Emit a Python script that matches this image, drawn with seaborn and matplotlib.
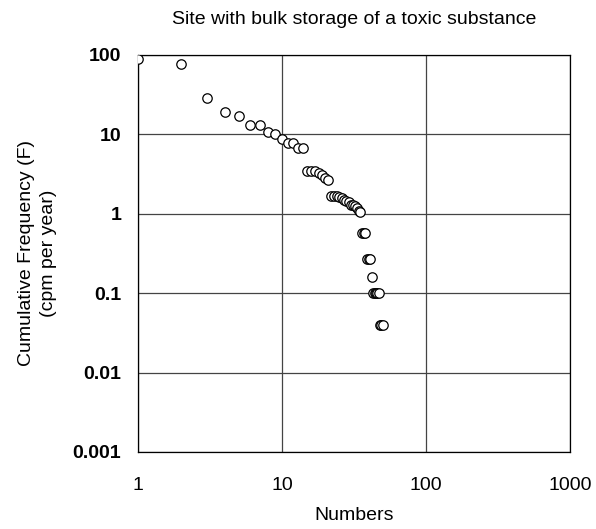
import matplotlib
matplotlib.use("Agg")
import matplotlib.pyplot as plt
import seaborn as sns
import pandas as pd
from matplotlib.ticker import FixedLocator, FixedFormatter, NullLocator

sns.set_theme(style="white")
plt.rcParams['font.family'] = ['Liberation Sans', 'DejaVu Sans']
plt.rcParams['text.color'] = 'black'
plt.rcParams['axes.labelcolor'] = 'black'
plt.rcParams['xtick.color'] = 'black'
plt.rcParams['ytick.color'] = 'black'

title = "Site with bulk storage of a toxic substance"
x_label = "Numbers"
y_label = "Cumulative Frequency (F)\n(cpm per year)"

ranks = list(range(1, 51))
frequency = [90, 76, 29, 19, 17, 13, 13, 10.8, 10.2, 8.7, 7.8, 7.8, 6.7, 6.7,
             3.5, 3.5, 3.5, 3.3, 3.1, 2.8, 2.7,
             1.7, 1.7, 1.7, 1.65, 1.6, 1.5, 1.45, 1.4, 1.3, 1.3, 1.25, 1.2, 1.1, 1.05,
             0.58, 0.58, 0.58, 0.27, 0.27, 0.27, 0.16,
             0.1, 0.1, 0.1, 0.1, 0.1, 0.04, 0.04, 0.04]

x_ticks = [1, 10, 100, 1000]
x_ticklabels = ["1", "10", "100", "1000"]
y_ticks = [0.001, 0.01, 0.1, 1, 10, 100]
y_ticklabels = ["0.001", "0.01", "0.1", "1", "10", "100"]

df = pd.DataFrame({"Numbers": ranks, "F": frequency})

fig = plt.figure(figsize=(5.96, 5.29), dpi=100)
left, right, bottom, top = 138.0 / 596, 570.0 / 596, 1 - 452.0 / 529, 1 - 55.0 / 529
ax = fig.add_axes([left, bottom, right - left, top - bottom])

sns.scatterplot(data=df, x="Numbers", y="F", ax=ax, s=46, marker="o",
                facecolor="white", edgecolor="black", linewidth=0.9, zorder=3)

ax.set_xscale("log")
ax.set_yscale("log")
ax.set_xlim(1, 1000)
ax.set_ylim(0.001, 100)

ax.xaxis.set_major_locator(FixedLocator(x_ticks))
ax.xaxis.set_major_formatter(FixedFormatter(x_ticklabels))
ax.xaxis.set_minor_locator(NullLocator())
ax.yaxis.set_major_locator(FixedLocator(y_ticks))
ax.yaxis.set_major_formatter(FixedFormatter(y_ticklabels))
ax.yaxis.set_minor_locator(NullLocator())

ax.grid(True, which="major", color="#444444", linewidth=0.9)
ax.set_axisbelow(True)
for sp in ax.spines.values():
    sp.set_color("black")
    sp.set_linewidth(0.9)

ax.tick_params(axis="x", length=0, pad=18, labelsize=14, labelcolor="black")
ax.tick_params(axis="y", length=0, pad=12, labelsize=14, labelcolor="black")
for lbl in ax.get_yticklabels():
    lbl.set_fontweight("bold")

ax.set_xlabel(x_label, fontsize=14, labelpad=9, color="black")
ax.set_ylabel(y_label, fontsize=14, labelpad=11, linespacing=1.45, color="black")
ax.set_title(title, fontsize=14, pad=22, color="black")

fig.savefig("out.png", dpi=100)
